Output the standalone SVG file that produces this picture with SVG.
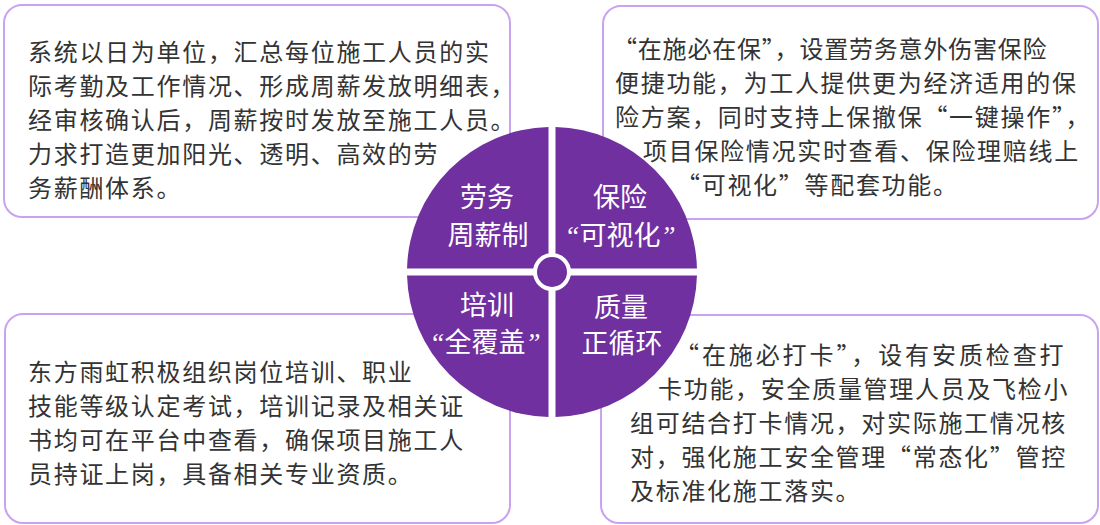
<svg xmlns="http://www.w3.org/2000/svg" width="1100" height="525" viewBox="0 0 1100 525">
<style>
.box{fill:#ffffff;stroke:#c9a3ef;stroke-width:2}
.t{font-family:"Noto Sans CJK SC","Noto Sans",sans-serif;font-size:24px;fill:#333333;letter-spacing:1.7px}
.q{fill:#7030a0}
.lbl{font-family:"Noto Sans CJK SC","Noto Sans",sans-serif;font-size:27px;fill:#ffffff;text-anchor:middle}
.lq{font-family:"Liberation Serif",serif;font-style:italic}
</style>
<rect width="1100" height="525" fill="#ffffff"/>
<g id="box-tl">
<rect class="box" x="4" y="5" width="506" height="212" rx="18"/>
<text class="t" x="28" y="61">系统以日为单位，汇总每位施工人员的实</text>
<text class="t" x="28" y="95">际考勤及工作情况、形成周薪发放明细表，</text>
<text class="t" x="28" y="129">经审核确认后，周薪按时发放至施工人员。</text>
<text class="t" x="28" y="163">力求打造更加阳光、透明、高效的劳</text>
<text class="t" x="28" y="197">务薪酬体系。</text>
</g>
<g id="box-tr">
<rect class="box" x="603" y="6" width="495" height="213" rx="18"/>
<text class="t" x="613" y="58" style="letter-spacing:0.8px">“在施必在保”，设置劳务意外伤害保险</text>
<text class="t" x="615" y="92">便捷功能，为工人提供更为经济适用的保</text>
<text class="t" x="615" y="126">险方案，同时支持上保撤保“一键操作”，</text>
<text class="t" x="643" y="160">项目保险情况实时查看、保险理赔线上</text>
<text class="t" x="676" y="194">“可视化”等配套功能。</text>
</g>
<g id="box-bl">
<rect class="box" x="5" y="314" width="505" height="209" rx="18"/>
<text class="t" x="28" y="381">东方雨虹积极组织岗位培训、职业</text>
<text class="t" x="28" y="415">技能等级认定考试，培训记录及相关证</text>
<text class="t" x="28" y="449">书均可在平台中查看，确保项目施工人</text>
<text class="t" x="28" y="483">员持证上岗，具备相关专业资质。</text>
</g>
<g id="box-br">
<rect class="box" x="601" y="315" width="497" height="208" rx="18"/>
<text class="t" x="675" y="364" style="letter-spacing:2.9px">“在施必打卡”，设有安质检查打</text>
<text class="t" x="658" y="398">卡功能，安全质量管理人员及飞检小</text>
<text class="t" x="630" y="432">组可结合打卡情况，对实际施工情况核</text>
<text class="t" x="630" y="466">对，强化施工安全管理“常态化”管控</text>
<text class="t" x="630" y="500">及标准化施工落实。</text>
</g>
<g id="connectors"></g>
<g id="q-tl">
<path class="q" d="M548.5,268.5 V127.04 A145,145 0 0 0 407.04,268.5 Z"/>
<text class="lbl" x="487" y="207">劳务</text>
<text class="lbl" x="488" y="245">周薪制</text>
</g>
<g id="q-tr">
<path class="q" d="M555.5,268.5 H696.96 A145,145 0 0 0 555.5,127.04 Z"/>
<text class="lbl" x="620" y="207">保险</text>
<text class="lbl" x="620" y="245"><tspan class="lq">“</tspan>可视化<tspan class="lq">”</tspan></text>
</g>
<g id="q-bl">
<path class="q" d="M548.5,275.5 H407.04 A145,145 0 0 0 548.5,416.96 Z"/>
<text class="lbl" x="487" y="315">培训</text>
<text class="lbl" x="485" y="352"><tspan class="lq">“</tspan>全覆盖<tspan class="lq">”</tspan></text>
</g>
<g id="q-br">
<path class="q" d="M555.5,275.5 V416.96 A145,145 0 0 0 696.96,275.5 Z"/>
<text class="lbl" x="621" y="317">质量</text>
<text class="lbl" x="622" y="353">正循环</text>
</g>
<g id="hub">
<circle cx="552" cy="272" r="17" fill="#7030a0" stroke="#ffffff" stroke-width="4"/>
</g>
</svg>
